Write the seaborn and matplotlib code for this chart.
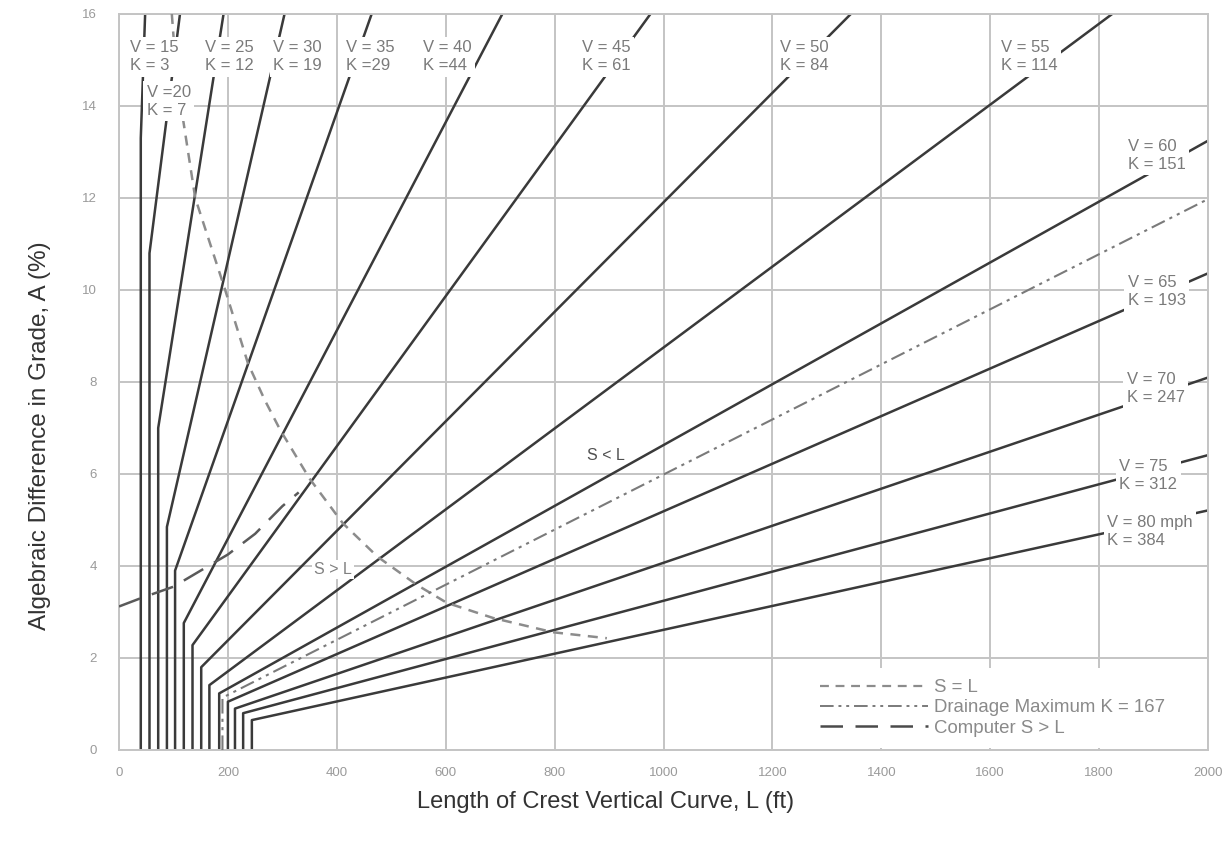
import matplotlib
matplotlib.use("Agg")
import matplotlib.pyplot as plt
from matplotlib.lines import Line2D
import numpy as np
import pandas as pd
import seaborn as sns

# Design speed (mph) and rate of vertical curvature K for each design line
speeds = [15, 20, 25, 30, 35, 40, 45, 50, 55, 60, 65, 70, 75, 80]
k_values = [3, 7, 12, 19, 29, 44, 61, 84, 114, 151, 193, 247, 312, 384]
# Minimum curve length (ft) where each line runs vertical
min_lengths = [40, 56, 72, 88, 103, 119, 135, 151, 166, 184, 200, 213, 228, 244]
# Grade difference (%) where each line leaves its minimum length
bend_grades = [13.3, 10.8, 7.0, 4.85, 3.9, 2.76, 2.28, 1.8, 1.41, 1.23, 1.05, 0.9, 0.8, 0.65]
k_labels = ["K = 3", "K = 7", "K = 12", "K = 19", "K =29", "K =44", "K = 61",
            "K = 84", "K = 114", "K = 151", "K = 193", "K = 247", "K = 312", "K = 384"]
v_labels = ["V = 15", "V =20", "V = 25", "V = 30", "V = 35", "V = 40", "V = 45",
            "V = 50", "V = 55", "V = 60", "V = 65", "V = 70", "V = 75", "V = 80 mph"]

# S = L boundary
sl_length = [97, 106, 140, 195, 237, 268, 296, 350, 411, 475, 547, 602, 687, 797, 896]
sl_grade = [16.0, 14.6, 12.0, 10.0, 8.4, 7.6, 6.96, 5.9, 4.93, 4.2, 3.59, 3.2, 2.87, 2.56, 2.43]

# Computed S > L curve
comp_length = [0, 40, 100, 150, 200, 250, 300, 330]
comp_grade = [3.12, 3.3, 3.55, 3.9, 4.25, 4.7, 5.3, 5.6]

# Drainage maximum
drainage_k = 167
drainage_min_length = 190

x_max, y_max = 2000, 16
x_ticks = list(range(0, 2001, 200))
y_ticks = list(range(0, 17, 2))

sns.set_theme(style="white")
plt.rcParams["font.family"] = ["Liberation Sans", "DejaVu Sans"]

fig = plt.figure(figsize=(12.24, 8.46), dpi=100)
ax = fig.add_axes([119 / 1224, 1 - 750 / 846, (1208 - 119) / 1224, (750 - 14) / 846])

grid_c = "#c4c4c4"
for xv in x_ticks:
    ax.axvline(xv, color=grid_c, lw=1.4, zorder=0.5)
for yv in y_ticks:
    ax.axhline(yv, color=grid_c, lw=1.4, zorder=0.5)

# Design lines
rows = []
for v, k, lmin, ab in zip(speeds, k_values, min_lengths, bend_grades):
    a_end = min(y_max, x_max / k)
    rows += [(v, lmin, 0.0, 0), (v, lmin, ab, 1), (v, k * a_end, a_end, 2)]
design = pd.DataFrame(rows, columns=["V", "L", "A", "order"])
sns.lineplot(data=design, x="L", y="A", units="V", estimator=None, sort=False,
             color="#3a3a3a", lw=1.8, ax=ax, legend=False, zorder=2)

sl_ls = (0, (4, 3))
dr_ls = (0, (7, 2.5, 1.5, 2.5, 1.5, 2.5))
cp_ls = (0, (9, 5))

sns.lineplot(x=sl_length, y=sl_grade, sort=False, estimator=None, ax=ax,
             color="#8c8c8c", lw=1.8, linestyle=sl_ls, zorder=3)

dr_a0 = drainage_min_length / drainage_k
sns.lineplot(x=[drainage_min_length, drainage_min_length, x_max],
             y=[0, dr_a0, x_max / drainage_k], sort=False, estimator=None, ax=ax,
             color="#7a7a7a", lw=1.5, linestyle=dr_ls, zorder=3)

sns.lineplot(x=comp_length, y=comp_grade, sort=False, estimator=None, ax=ax,
             color="#5a5a5a", lw=1.8, linestyle=cp_ls, zorder=3)

# Speed / K labels
label_pos = [(20, 15.07), (51, 14.1), (158, 15.07), (283, 15.07), (417, 15.07),
             (558, 15.07), (850, 15.07), (1214, 15.07), (1620, 15.07),
             (1853, 12.93), (1853, 9.96), (1851, 7.85), (1837, 5.96), (1815, 4.76)]
for (lx, ly), vt, kt in zip(label_pos, v_labels, k_labels):
    ax.text(lx, ly, vt + "\n" + kt, ha="left", va="center", fontsize=12,
            color="#7a7a7a", linespacing=1.25, zorder=4,
            bbox=dict(facecolor="white", edgecolor="none", pad=2.5))

ax.text(894, 6.41, "S < L", ha="center", va="center", fontsize=11.5,
        color="#505050", zorder=4)
ax.text(393, 3.93, "S > L", ha="center", va="center", fontsize=11.5,
        color="#808080", zorder=4,
        bbox=dict(facecolor="white", edgecolor="none", pad=1.5))

ax.set_xlim(0, x_max)
ax.set_ylim(0, y_max)
ax.set_xticks(x_ticks)
ax.set_yticks(y_ticks)
ax.tick_params(axis="both", labelsize=9.5, colors="#9a9a9a", length=4,
               direction="inout", width=1)
ax.tick_params(axis="x", pad=10)
ax.tick_params(axis="y", pad=14)
for sp in ax.spines.values():
    sp.set_color(grid_c)
    sp.set_linewidth(1.4)

ax.set_xlabel("Length of Crest Vertical Curve, L (ft)", fontsize=17,
              color="#333333", va="center")
ax.xaxis.set_label_coords(0.447, -0.0707)
ax.set_ylabel("Algebraic Difference in Grade, A (%)", fontsize=17.5,
              color="#333333", va="center")
ax.yaxis.set_label_coords(-0.0725, 0.4266)

handles = [
    Line2D([], [], color="#8c8c8c", lw=1.6, linestyle=sl_ls),
    Line2D([], [], color="#7a7a7a", lw=1.4, linestyle=dr_ls),
    Line2D([], [], color="#4a4a4a", lw=1.8, linestyle=cp_ls),
]
leg = ax.legend(handles, ["S = L", "Drainage Maximum K = 167", "Computer S > L"],
                loc="upper left", bbox_to_anchor=(0.6336, 0.1114), frameon=True,
                facecolor="white", edgecolor="none", framealpha=1, fontsize=13.4,
                handlelength=5.8, handletextpad=0.33, labelspacing=0.17,
                borderpad=0.6, borderaxespad=0, labelcolor="#8a8a8a")
leg.set_zorder(5)

fig.savefig("out.png", dpi=100)
